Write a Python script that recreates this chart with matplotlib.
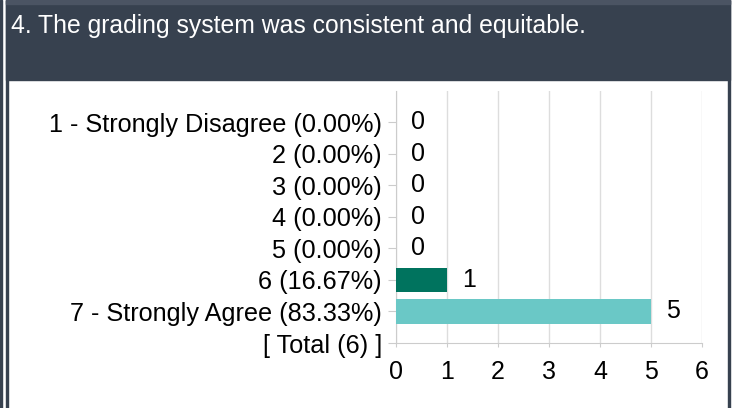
import matplotlib.pyplot as plt
from matplotlib.patches import Rectangle

# survey answers for one question
question = '4. The grading system was consistent and equitable.'
categories = ['1 - Strongly Disagree (0.00%)', '2 (0.00%)', '3 (0.00%)', '4 (0.00%)',
              '5 (0.00%)', '6 (16.67%)', '7 - Strongly Agree (83.33%)', '[ Total (6) ]']
counts = [0, 0, 0, 0, 0, 1, 5]
bar_colors = ['#00735E', '#00735E', '#00735E', '#00735E', '#00735E', '#00735E', '#6AC8C6']

HEADER = '#37414F'
plt.rcParams['font.family'] = ['Liberation Sans', 'DejaVu Sans']

fig = plt.figure(figsize=(7.37, 4.08), dpi=100)
W, H = 737, 408

def px(x, y):
    return x / W, 1 - y / H

# frame and header bar
fig.patches.append(Rectangle((0, 0), 2 / W, 1, transform=fig.transFigure, color=HEADER))
fig.patches.append(Rectangle((6 / W, 0), 2 / W, 1, transform=fig.transFigure, color=HEADER))
fig.patches.append(Rectangle((728 / W, 0), 2 / W, 1, transform=fig.transFigure, color=HEADER))
fig.patches.append(Rectangle((6 / W, 1 - 80 / H), 724 / W, 80 / H,
                             transform=fig.transFigure, color=HEADER))
fig.patches.append(Rectangle((6 / W, 1 - 4 / H), 724 / W, 4 / H,
                             transform=fig.transFigure, color='#4B5463'))
fig.text(*px(11, 26), question, color='white', fontsize=17.8, va='center', ha='left')

x0, y0 = px(396, 343)
x1, y1 = px(702, 90.5)
ax = fig.add_axes([x0, y0, x1 - x0, y1 - y0])

ypos = list(range(len(counts)))
ax.barh(ypos, counts, height=0.78, color=bar_colors, zorder=3)
for y, v in zip(ypos, counts):
    ax.annotate(str(v), (v, y), xytext=(16, 0), textcoords='offset points',
                ha='center', va='center', fontsize=18)

ax.set_xlim(0, 6)
ax.set_ylim(len(categories) - 1, -1)
ax.set_xticks(range(7))
ax.set_yticks(range(len(categories)))
ax.set_yticklabels(categories)
ax.tick_params(axis='y', length=6, color='#cccccc', labelsize=18.2, pad=4)
ax.tick_params(axis='x', length=3, color='#cccccc', labelsize=18, pad=9)
ax.grid(axis='x', color='#dddddd', linewidth=1, zorder=0)
for s in ['top', 'right']:
    ax.spines[s].set_visible(False)
for s in ['left', 'bottom']:
    ax.spines[s].set_color('#cccccc')

fig.savefig('out.png', dpi=100)
